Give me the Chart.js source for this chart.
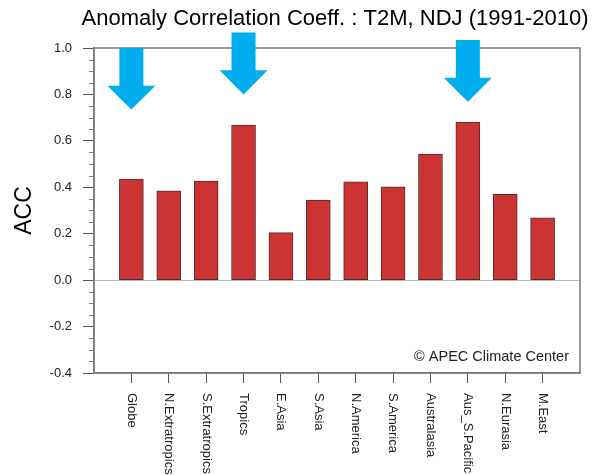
<!DOCTYPE html>
<html>
<head>
<meta charset="utf-8">
<script src="https://cdn.jsdelivr.net/npm/chart.js@4/dist/chart.umd.min.js"></script>
<style>
  html, body { margin: 0; padding: 0; background: #fff; }
  #wrap { width: 594px; height: 475px; }
</style>
</head>
<body>
<div id="wrap"><canvas id="accChart"></canvas></div>
<script>
// regions and ACC values
const regions = ['Globe', 'N.Extratropics', 'S.Extratropics', 'Tropics', 'E.Asia', 'S.Asia',
    'N.America', 'S.America', 'Australasia', 'Aus_S.Pacific', 'N.Eurasia', 'M.East'];
const accValues = [0.435, 0.385, 0.427, 0.668, 0.205, 0.345, 0.424, 0.402, 0.543, 0.681, 0.370, 0.268];

// y ticks
const yMajorTicks = [-0.4, -0.2, 0.0, 0.2, 0.4, 0.6, 0.8, 1.0];
const yMinorStep = 0.05;

// highlight arrows (region, top, neck, tip in ACC units)
const arrowRegions = ['Globe', 'Tropics', 'Aus_S.Pacific'];
const arrowTop = [1.0, 1.067, 1.034];
const arrowNeck = [0.837, 0.904, 0.872];
const arrowTip = [0.735, 0.800, 0.768];

const titleText = 'Anomaly Correlation Coeff. : T2M, NDJ (1991-2010)';
const creditText = '\u00A9 APEC Climate Center';

Chart.defaults.font.family = "'Liberation Sans', Arial, sans-serif";
Chart.defaults.color = '#222';

const frameColor = '#7a7a7a';

// extra drawing: frame, minor ticks, rotated labels, arrows, title
const decorations = {
    id: 'decorations',
    afterDraw(chart) {
        const ctx = chart.ctx;
        const area = chart.chartArea;
        const xs = chart.scales.x;
        const ys = chart.scales.y;
        ctx.save();

        // frame
        ctx.strokeStyle = frameColor;
        ctx.lineWidth = 1.5;
        ctx.strokeRect(area.left, area.top, area.right - area.left, area.bottom - area.top);

        // minor y ticks
        ctx.lineWidth = 1;
        const lo = yMajorTicks[0];
        const hi = yMajorTicks[yMajorTicks.length - 1];
        const n = Math.round((hi - lo) / yMinorStep);
        for (let i = 0; i <= n; i++) {
            if (i % 4 === 0) continue;
            const py = Math.round(ys.getPixelForValue(lo + i * yMinorStep)) + 0.5;
            ctx.beginPath();
            ctx.moveTo(area.left - 5, py);
            ctx.lineTo(area.left, py);
            ctx.stroke();
        }

        // x labels, rotated clockwise
        ctx.fillStyle = '#222';
        ctx.font = "13px 'Liberation Sans', Arial, sans-serif";
        ctx.textAlign = 'left';
        ctx.textBaseline = 'middle';
        regions.forEach((r, i) => {
            const px = xs.getPixelForValue(i + 1);
            ctx.save();
            ctx.translate(px, area.bottom + 20);
            ctx.rotate(Math.PI / 2);
            ctx.fillText(r, 0, 0);
            ctx.restore();
        });

        // arrows
        ctx.fillStyle = '#00aeef';
        arrowRegions.forEach((r, i) => {
            const cx = xs.getPixelForValue(regions.indexOf(r) + 1);
            const top = ys.getPixelForValue(arrowTop[i]);
            const neck = ys.getPixelForValue(arrowNeck[i]);
            const tip = ys.getPixelForValue(arrowTip[i]);
            ctx.beginPath();
            ctx.moveTo(cx - 12, top);
            ctx.lineTo(cx + 12, top);
            ctx.lineTo(cx + 12, neck);
            ctx.lineTo(cx + 24, neck);
            ctx.lineTo(cx, tip);
            ctx.lineTo(cx - 24, neck);
            ctx.lineTo(cx - 12, neck);
            ctx.closePath();
            ctx.fill();
        });

        // title
        ctx.fillStyle = '#000';
        ctx.font = "22px 'Liberation Sans', Arial, sans-serif";
        ctx.textAlign = 'center';
        ctx.textBaseline = 'alphabetic';
        ctx.fillText(titleText, (area.left + area.right) / 2 - 2, 25);

        // credit
        ctx.fillStyle = '#222';
        ctx.font = "14.5px 'Liberation Sans', Arial, sans-serif";
        ctx.textAlign = 'right';
        ctx.fillText(creditText, area.right - 11, area.bottom - 12);

        ctx.restore();
    }
};

function createAccChart() {
    const ctx = document.getElementById('accChart').getContext('2d');
    new Chart(ctx, {
        type: 'bar',
        data: {
            datasets: [{
                data: regions.map((r, i) => ({ x: i + 1, y: accValues[i] })),
                backgroundColor: '#cc3333',
                borderColor: '#5a2a2a',
                borderWidth: 1,
                borderSkipped: false,
                barThickness: 24,
            }],
        },
        options: {
            responsive: true,
            maintainAspectRatio: false,
            animation: false,
            layout: {
                padding: { top: 48, right: 14, left: 0, bottom: 0 },
            },
            plugins: {
                legend: { display: false },
                tooltip: { enabled: false },
            },
            scales: {
                x: {
                    type: 'linear',
                    offset: false,
                    min: 0,
                    max: regions.length + 1,
                    afterBuildTicks: (scale) => {
                        scale.ticks = regions.map((r, i) => ({ value: i + 1 }));
                    },
                    afterFit: (scale) => { scale.height = 102; },
                    ticks: { display: false },
                    grid: {
                        offset: false,
                        drawOnChartArea: false,
                        drawTicks: true,
                        tickLength: 10,
                        tickColor: '#555',
                    },
                    border: { color: frameColor, width: 1.5 },
                },
                y: {
                    min: yMajorTicks[0],
                    max: yMajorTicks[yMajorTicks.length - 1],
                    afterBuildTicks: (scale) => {
                        scale.ticks = yMajorTicks.map(v => ({ value: v }));
                    },
                    afterFit: (scale) => { scale.width = 94; },
                    ticks: {
                        padding: 11,
                        font: { size: 13 },
                        color: '#222',
                        callback: (v) => v.toFixed(1),
                    },
                    grid: {
                        drawTicks: true,
                        tickLength: 11,
                        tickColor: '#555',
                        color: (c) => (c.tick && Math.abs(c.tick.value) < 1e-9 ? '#bbbbbb' : 'rgba(0,0,0,0)'),
                    },
                    border: { color: frameColor, width: 1.5 },
                    title: {
                        display: true,
                        text: 'ACC',
                        font: { size: 23 },
                        color: '#000',
                        padding: { top: 11, bottom: 0 },
                    },
                },
            },
        },
        plugins: [decorations],
    });
}

document.addEventListener('DOMContentLoaded', () => {
    createAccChart();
});
</script>
</body>
</html>
